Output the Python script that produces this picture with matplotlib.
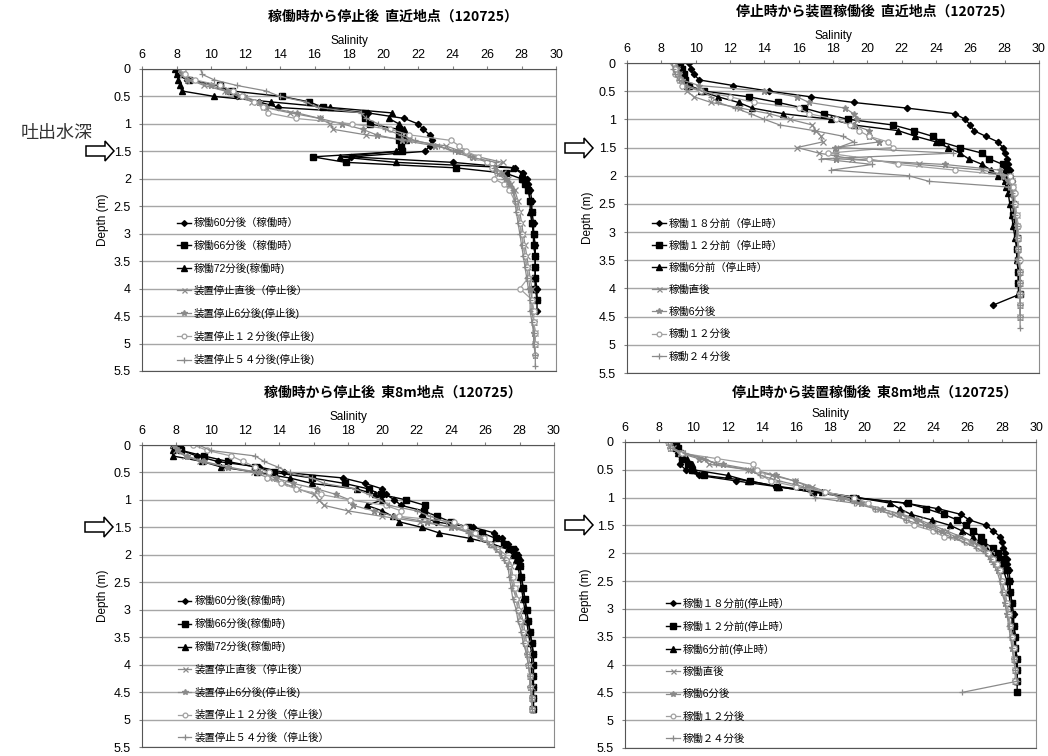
import numpy as np
import matplotlib
matplotlib.use("Agg")
import matplotlib.pyplot as plt
from matplotlib.patches import Polygon
from matplotlib.ticker import FuncFormatter, MultipleLocator

plt.rcParams['font.family'] = ['Liberation Sans', 'Noto Sans CJK JP']

W, H = 1048, 756

# depth grids (m), 0.1 m near the surface, coarser below
TOP = [0.0, 0.1, 0.2, 0.3, 0.4, 0.5, 0.6, 0.7, 0.8, 0.9, 1.0, 1.1,
       1.2, 1.3, 1.4, 1.5, 1.6, 1.7, 1.8, 1.9, 2.0, 2.1, 2.2]
DEPTH_TL = TOP + [2.4, 2.6, 2.8, 3.0, 3.2, 3.4, 3.6, 3.8, 4.0, 4.2, 4.4, 4.6, 4.8, 5.0, 5.2, 5.4]
DEPTH_TR = TOP + [2.3, 2.5, 2.7, 2.9, 3.1, 3.3, 3.5, 3.7, 3.9, 4.1, 4.3, 4.5, 4.7]
DEPTH_BL = TOP + [2.4, 2.6, 2.8, 3.0, 3.2, 3.4, 3.6, 3.8, 4.0, 4.2, 4.4, 4.6, 4.8]
DEPTH_BR = TOP + [2.3, 2.5, 2.7, 2.9, 3.1, 3.3, 3.5, 3.7, 3.9, 4.1, 4.3, 4.5]

# ---- top left: 稼働時から停止後 直近地点
TL_60 = [8.0, 8.1, 8.6, 10.5, 11.0, 11.5, 12.8, 13.9, 19.1, 21.2, 22.0, 22.3, 22.7, 22.8, 22.7, 22.4, 18.1, 24.0, 27.6, 28.1, 28.3, 28.4, 28.5,
         28.6, 28.6, 28.7, 28.7, 28.8, 28.8, 28.8, 28.8, 28.9, 28.9, 28.9]
TL_66 = [8.2, 8.3, 8.7, 10.5, 11.2, 14.1, 15.7, 16.5, 18.9, 18.9, 19.2, 20.9, 20.9, 20.9, 21.0, 21.1, 15.9, 17.8, 24.2, 27.1, 28.0, 28.2, 28.4,
         28.5, 28.6, 28.6, 28.7, 28.7, 28.8, 28.8, 28.8, 28.8, 28.9]
TL_72 = [7.9, 8.0, 8.1, 8.2, 8.3, 10.2, 13.5, 16.9, 20.5, 20.3, 20.9, 21.2, 21.3, 21.3, 21.1, 20.7, 17.5, 20.7, 27.5, 28.0, 28.1, 28.3, 28.4,
         28.5, 28.5, 28.6, 28.7, 28.7, 28.8, 28.8, 28.8, 28.8]
TL_S0 = [8.3, 8.4, 8.8, 9.6, 10.8, 11.6, 12.4, 13.1, 14.6, 16.3, 16.9, 17.1, 19.0, 21.5, 23.6, 24.5, 25.5, 26.9, 26.5, 26.9, 27.2, 27.4, 27.6,
         27.8, 27.9, 28.0, 28.1, 28.2, 28.3, 28.4, 28.5, 28.6, 28.6, 28.7, 28.7, 28.8, 28.8]
TL_S6 = [8.2, 8.3, 8.6, 10.0, 10.9, 11.9, 12.8, 13.2, 15.0, 16.3, 17.6, 18.8, 19.6, 21.1, 23.0, 24.3, 25.2, 26.0, 26.4, 26.8, 27.1, 27.3, 27.5,
         27.7, 27.8, 27.9, 28.0, 28.1, 28.2, 28.3, 28.4, 28.5, 28.6, 28.6, 28.7, 28.7, 28.8, 28.8]
TL_S12 = [8.4, 8.5, 9.1, 10.5, 11.3, 11.8, 12.5, 13.0, 13.3, 14.9, 18.2, 20.4, 21.5, 23.9, 24.4, 24.8, 25.5, 26.0, 26.3, 26.6, 26.4, 27.0, 27.3,
          27.6, 27.8, 27.9, 28.0, 28.1, 28.2, 28.3, 28.4, 27.9, 28.6, 28.7, 28.7, 28.8, 28.8, 28.8]
TL_S54 = [9.4, 9.5, 10.2, 11.5, 13.2, 14.0, 15.5, 16.2, 18.7, 19.0, 19.7, 20.1, 21.0, 21.8, 23.2, 24.0, 25.0, 26.5, 26.4, 26.6, 27.0, 27.3, 27.5,
          27.6, 27.7, 27.8, 27.9, 28.0, 28.1, 28.2, 28.3, 28.4, 28.5, 28.5, 28.6, 28.7, 28.7, 28.8, 28.8]

# ---- top right: 停止時から装置稼働後 直近地点
TR_18 = [9.6, 9.7, 9.9, 10.2, 12.2, 14.3, 16.7, 19.2, 22.3, 25.1, 25.7, 26.0, 26.2, 26.9, 27.6, 27.9, 28.0, 28.15, 28.2, 28.3, 28.3, 28.4, 28.4,
         28.5, 28.5, 28.6, 28.6, 28.7, 28.7, 28.8, 28.8, 28.8, 28.9, 27.3]
TR_12 = [9.1, 9.2, 9.3, 9.4, 9.6, 10.5, 13.1, 14.8, 16.3, 17.5, 18.9, 21.5, 22.7, 23.8, 24.3, 25.4, 26.7, 27.1, 27.9, 28.1, 28.2, 28.3, 28.3,
         28.4, 28.5, 28.5, 28.6, 28.7, 28.7, 28.8, 28.8, 28.8, 28.9]
TR_6 = [9.0, 9.1, 9.2, 9.3, 9.5, 10.3, 11.3, 12.5, 13.3, 15.1, 17.9, 19.2, 21.8, 22.8, 24.0, 24.7, 25.4, 25.9, 26.7, 27.2, 27.6, 28.0, 28.1,
        28.2, 28.3, 28.4, 28.5, 28.6, 28.7, 28.7, 28.8, 28.8, 28.8]
TR_A0 = [8.8, 8.9, 9.0, 9.1, 9.3, 9.5, 9.9, 10.9, 12.6, 14.3, 15.5, 16.8, 17.0, 17.3, 17.4, 15.9, 17.2, 19.1, 23.0, 26.7, 28.3, 28.4, 28.5,
         28.5, 28.6, 28.7, 28.7, 28.8, 28.8, 28.8, 28.9, 28.9, 28.9, 28.9, 28.9]
TR_A6 = [8.8, 8.9, 9.0, 9.2, 10.2, 14.0, 15.9, 16.6, 18.7, 19.2, 19.4, 19.2, 20.1, 20.1, 20.7, 18.1, 18.2, 18.2, 24.5, 27.7, 27.9, 28.2, 28.4,
         28.5, 28.6, 28.6, 28.7, 28.8, 28.8, 28.8, 28.9, 28.9, 28.9, 28.9, 28.9]
TR_A12 = [8.7, 8.8, 8.8, 9.0, 9.2, 10.3, 12.0, 13.4, 16.0, 16.6, 18.2, 19.0, 19.5, 20.1, 21.2, 21.5, 17.7, 20.1, 21.8, 25.1, 28.3, 28.4, 28.5,
          28.6, 28.6, 28.7, 28.8, 28.8, 28.8, 28.9, 28.9, 28.9, 28.9, 28.9, 28.9]
TR_A24 = [8.6, 8.7, 8.8, 9.0, 9.5, 10.4, 10.9, 11.3, 12.3, 13.2, 14.0, 14.9, 16.9, 18.6, 19.2, 18.3, 25.0, 17.3, 20.3, 17.9, 22.4, 23.6, 28.2,
          28.4, 28.5, 28.6, 28.7, 28.7, 28.8, 28.8, 28.9, 28.9, 28.9, 28.9, 28.9, 28.9]

# ---- bottom left: 稼働時から停止後 東8m地点
BL_60 = [7.9, 8.3, 9.2, 10.4, 12.8, 14.3, 17.7, 19.0, 20.0, 20.2, 20.7, 21.1, 22.4, 22.3, 23.1, 25.3, 26.5, 27.0, 27.3, 27.7, 27.9, 28.0, 28.0,
         28.1, 28.2, 28.3, 28.4, 28.5, 28.6, 28.7, 28.8, 28.8, 28.8, 28.8, 28.8, 28.8]
BL_66 = [8.2, 8.3, 9.6, 11.0, 12.6, 13.7, 15.9, 17.8, 19.2, 19.9, 21.4, 22.5, 22.4, 23.2, 24.0, 25.0, 25.8, 26.6, 27.1, 27.6, 27.8, 27.9, 28.0,
         28.1, 28.2, 28.3, 28.4, 28.5, 28.6, 28.7, 28.8, 28.8, 28.8, 28.8, 28.8, 28.8]
BL_72 = [7.8, 7.8, 7.8, 9.5, 10.6, 12.7, 14.6, 15.9, 18.5, 19.6, 20.0, 19.1, 20.0, 20.6, 21.0, 22.3, 23.3, 25.1, 26.4, 27.3, 27.6, 27.8, 27.9,
         28.0, 28.1, 28.2, 28.3, 28.4, 28.5, 28.6, 28.7, 28.7, 28.7, 28.8, 28.8, 28.8]
BL_S0 = [7.8, 8.0, 8.5, 9.4, 10.9, 12.5, 13.4, 14.3, 15.1, 16.0, 16.3, 16.6, 18.0, 20.0, 22.2, 24.2, 25.4, 25.9, 26.4, 26.8, 27.1, 27.3, 27.5,
         27.6, 27.7, 27.9, 28.0, 28.2, 28.3, 28.4, 28.5, 28.6, 28.6, 28.7, 28.7, 28.7]
BL_S6 = [7.9, 8.1, 8.6, 9.6, 11.0, 12.8, 13.8, 14.8, 16.2, 17.3, 18.1, 18.3, 19.5, 20.7, 22.6, 24.0, 25.1, 25.8, 26.3, 26.7, 27.0, 27.2, 27.4,
         27.5, 27.6, 27.8, 27.9, 28.1, 28.2, 28.3, 28.4, 28.5, 28.6, 28.6, 28.7, 28.7]
BL_S12 = [9.0, 9.8, 11.2, 11.9, 12.6, 13.4, 13.3, 14.1, 15.0, 16.4, 18.1, 20.2, 21.1, 21.0, 24.2, 24.8, 25.4, 25.9, 26.3, 26.7, 27.0, 27.2, 27.4,
          27.6, 27.7, 27.8, 27.9, 28.0, 28.2, 28.3, 28.4, 28.5, 28.6, 28.6, 28.7, 28.7]
BL_S54 = [9.3, 10.0, 12.6, 13.1, 13.9, 14.6, 15.9, 16.6, 18.4, 19.2, 19.8, 20.4, 22.0, 22.8, 23.7, 24.3, 25.0, 25.7, 26.2, 26.6, 26.9, 27.1, 27.3,
          27.4, 27.5, 27.6, 27.8, 27.9, 28.1, 28.2, 28.4, 28.5, 28.6, 28.6, 28.7, 28.7]

# ---- bottom right: 停止時から装置稼働後 東8m地点
BR_18 = [9.0, 9.0, 9.1, 9.3, 9.2, 9.55, 10.3, 12.5, 14.8, 17.0, 19.5, 22.4, 24.3, 25.6, 26.1, 27.1, 27.5, 27.9, 28.0, 28.1, 28.2, 28.3, 28.3,
         28.4, 28.5, 28.5, 28.6, 28.7, 28.7, 28.8, 28.8, 28.9, 28.9, 28.9]
BR_12 = [9.0, 9.1, 9.2, 9.35, 9.7, 9.9, 10.6, 13.3, 14.85, 17.0, 19.3, 22.5, 23.6, 24.6, 25.4, 25.9, 26.3, 26.8, 26.9, 27.5, 27.8, 28.0, 28.2,
         28.3, 28.4, 28.5, 28.6, 28.6, 28.7, 28.8, 28.8, 28.9, 28.9, 28.9, 28.9]
BR_6 = [8.9, 9.0, 9.1, 9.6, 9.9, 10.0, 12.0, 13.2, 15.0, 17.5, 19.6, 21.5, 22.05, 22.7, 23.9, 25.0, 25.7, 26.3, 26.7, 27.1, 27.4, 27.8, 28.0,
        28.1, 28.3, 28.4, 28.5, 28.6, 28.6, 28.7, 28.8, 28.8, 28.9, 28.9]
BR_A0 = [8.6, 8.8, 9.3, 10.6, 10.9, 13.2, 14.6, 15.9, 16.9, 17.8, 18.5, 19.6, 20.9, 22.2, 23.2, 24.0, 24.8, 25.6, 26.4, 27.0, 27.3, 27.5, 27.7,
         27.9, 28.0, 28.2, 28.3, 28.4, 28.5, 28.6, 28.7, 28.7, 28.8, 28.8]
BR_A6 = [8.5, 8.6, 9.2, 10.3, 11.7, 13.5, 14.8, 15.9, 16.7, 17.6, 18.7, 19.8, 21.0, 22.0, 23.0, 23.7, 24.5, 25.3, 26.2, 26.9, 27.2, 27.4, 27.6,
         27.8, 28.0, 28.1, 28.2, 28.3, 28.5, 28.6, 28.6, 28.7, 28.8, 28.8]
BR_A12 = [8.5, 8.6, 9.3, 11.4, 13.5, 13.7, 14.0, 14.5, 16.0, 17.7, 19.4, 20.2, 20.6, 21.5, 22.4, 22.9, 24.0, 24.6, 25.9, 26.6, 27.2, 27.5, 27.7,
          27.9, 28.0, 28.1, 28.3, 28.4, 28.5, 28.6, 28.7, 28.7, 28.8, 28.8]
BR_A24 = [8.5, 8.6, 9.5, 10.7, 11.3, 13.2, 13.9, 15.0, 16.4, 16.8, 17.1, 19.4, 20.6, 21.6, 22.4, 23.4, 24.2, 25.0, 25.8, 26.5, 27.0, 27.3, 27.5,
          27.7, 27.9, 28.0, 28.2, 28.3, 28.4, 28.5, 28.6, 28.7, 28.8, 28.9, 25.7]

LABELS_TL = ['稼働60分後（稼働時）', '稼働66分後（稼働時）', '稼働72分後(稼働時)', '装置停止直後（停止後）',
             '装置停止6分後(停止後)', '装置停止１２分後(停止後)', '装置停止５４分後(停止後)']
LABELS_TR = ['稼働１８分前（停止時）', '稼働１２分前（停止時）', '稼働6分前（停止時）', '稼働直後',
             '稼働6分後', '稼動１２分後', '稼動２４分後']
LABELS_BL = ['稼働60分後(稼働時)', '稼働66分後(稼働時)', '稼働72分後(稼働時)', '装置停止直後（停止後）',
             '装置停止6分後(停止後)', '装置停止１２分後（停止後）', '装置停止５４分後（停止後）']
LABELS_BR = ['稼働１８分前(停止時）', '稼働１２分前(停止時）', '稼働6分前(停止時）', '稼働直後',
             '稼働6分後', '稼働１２分後', '稼働２４分後']

GRAY = '#8a8a8a'
STYLES = [
    dict(color='black', marker='D', ms=3.2, lw=1.0),
    dict(color='black', marker='s', ms=4.5, lw=1.0),
    dict(color='black', marker='^', ms=4.5, lw=1.0),
    dict(color=GRAY, marker='x', ms=4, mew=0.9, lw=0.9),
    dict(color=GRAY, marker='*', ms=4.5, lw=0.9),
    dict(color='#a0a0a0', marker='o', ms=3.8, mfc='white', mew=0.9, lw=0.9),
    dict(color=GRAY, marker='+', ms=4.5, mew=0.9, lw=0.9),
]

fig = plt.figure(figsize=(W / 100, H / 100), dpi=100)
fig.patch.set_facecolor('white')


def px_rect(left, top, right, bottom):
    return [left / W, 1 - bottom / H, (right - left) / W, (bottom - top) / H]


def draw_panel(box, depth, series, labels, title, title_xy, leg_anchor):
    ax = fig.add_axes(px_rect(*box))
    for vals, lab, st in zip(series, labels, STYLES):
        ax.plot(vals, depth[:len(vals)], label=lab, **st)
    ax.set_xlim(6, 30)
    ax.set_ylim(5.5, 0)
    ax.xaxis.set_major_locator(MultipleLocator(2))
    ax.yaxis.set_major_locator(MultipleLocator(0.5))
    ax.yaxis.set_major_formatter(FuncFormatter(lambda v, p: f'{v:g}'))
    ax.xaxis.tick_top()
    ax.xaxis.set_label_position('top')
    ax.set_xlabel('Salinity', fontsize=8.5, labelpad=3)
    ax.set_ylabel('Depth (m)', fontsize=8.5, labelpad=3)
    ax.tick_params(axis='both', labelsize=9, length=2, color='#808080')
    ax.tick_params(axis='x', pad=4)
    ax.tick_params(axis='y', pad=6)
    ax.yaxis.grid(True, color='#a6a6a6', lw=1)
    ax.set_axisbelow(True)
    for side in ['top', 'left', 'bottom']:
        ax.spines[side].set_color('#555555')
    ax.spines['right'].set_color('#8c8c8c')
    ax.legend(loc='center left', bbox_to_anchor=leg_anchor, frameon=False,
              fontsize=7.5, borderpad=0, borderaxespad=0, labelspacing=1.15,
              handlelength=1.3, handletextpad=0.3, markerscale=0.9)
    fig.text(title_xy[0] / W, 1 - title_xy[1] / H, title, ha='center', va='center',
             fontsize=10, fontweight='bold', family=['Noto Sans CJK JP'])
    return ax


def draw_arrow(x0, yc):
    # hollow block arrow pointing right, pixel coordinates
    pts = [(x0, yc - 5), (x0 + 19, yc - 5), (x0 + 19, yc - 10), (x0 + 28, yc),
           (x0 + 19, yc + 10), (x0 + 19, yc + 5), (x0, yc + 5)]
    pts = [(x / W, 1 - y / H) for x, y in pts]
    fig.patches.append(Polygon(pts, closed=True, fc='white', ec='black', lw=1.1,
                               transform=fig.transFigure, figure=fig))


draw_panel((142, 69, 556, 371), DEPTH_TL, [TL_60, TL_66, TL_72, TL_S0, TL_S6, TL_S12, TL_S54],
           LABELS_TL, '稼働時から停止後  直近地点（120725）', (393, 17), (0.085, 0.263))
draw_panel((627, 63, 1039, 373), DEPTH_TR, [TR_18, TR_12, TR_6, TR_A0, TR_A6, TR_A12, TR_A24],
           LABELS_TR, '停止時から装置稼働後  直近地点（120725）', (875, 12), (0.061, 0.268))
draw_panel((142, 445, 554, 747), DEPTH_BL, [BL_60, BL_66, BL_72, BL_S0, BL_S6, BL_S12, BL_S54],
           LABELS_BL, '稼働時から停止後  東8m地点（120725）', (393, 393), (0.087, 0.259))
draw_panel((625, 442, 1036, 748), DEPTH_BR, [BR_18, BR_12, BR_6, BR_A0, BR_A6, BR_A12, BR_A24],
           LABELS_BR, '停止時から装置稼働後  東8m地点（120725）', (875, 393), (0.10, 0.252))

draw_arrow(86, 151)
draw_arrow(565, 148)
draw_arrow(85, 527)
draw_arrow(565, 525)
fig.text(57 / W, 1 - 133 / H, '吐出水深', ha='center', va='center', fontsize=13,
         color='#333333', family=['Noto Sans CJK JP'])

fig.savefig('out.png', dpi=100)
